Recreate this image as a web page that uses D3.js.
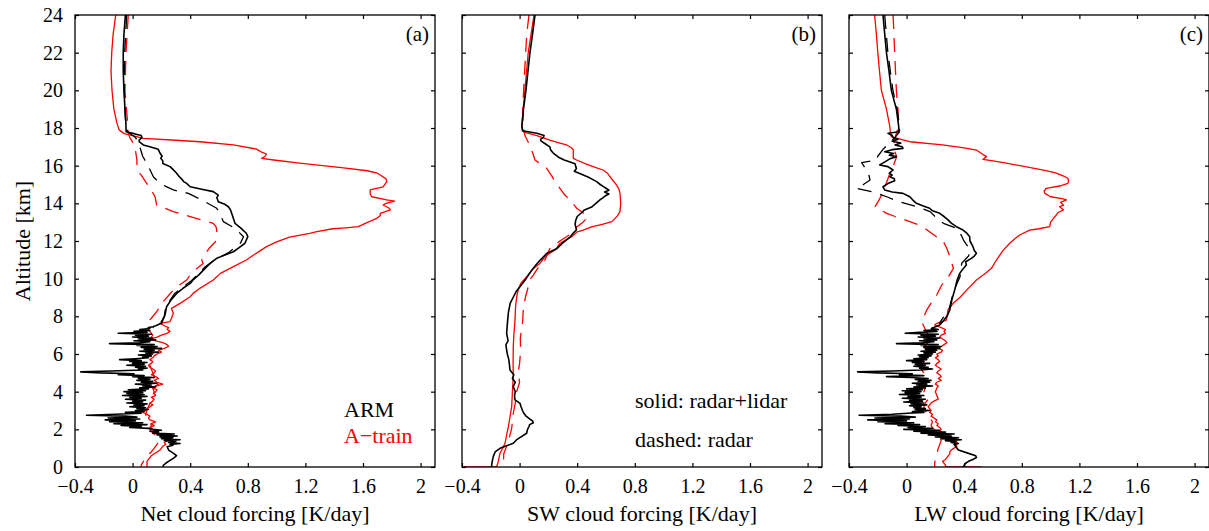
<!DOCTYPE html>
<html>
<head>
<meta charset="utf-8">
<script src="https://cdn.jsdelivr.net/npm/d3@7"></script>
<style>
  html, body { margin: 0; padding: 0; background: #fff; }
  svg { display: block; }
  text { font-family: "Liberation Serif", "Times New Roman", serif; fill: #000; }
</style>
</head>
<body>
<svg id="chart" width="1209" height="531"></svg>
<script>
// Axis ticks and labels
const xTicks = [-0.4, 0, 0.4, 0.8, 1.2, 1.6, 2];
const yTicks = [0, 2, 4, 6, 8, 10, 12, 14, 16, 18, 20, 22, 24];
const panelTags = ["(a)", "(b)", "(c)"];
const xTitles = ["Net cloud forcing [K/day]", "SW cloud forcing [K/day]", "LW cloud forcing [K/day]"];
const yTitle = "Altitude [km]";
const sourceNames = ["ARM", "A\u2212train"];
const styleNotes = ["solid: radar+lidar", "dashed: radar"];

// Profiles as [altitude km, forcing K/day]
// ---- Net cloud forcing ----
const netArmSolid = [
  [24,-0.05],[23,-0.06],[22,-0.065],[21,-0.065],[20,-0.06],[19,-0.053],[18.3,-0.047],[17.8,-0.045],
  [17.7,0.01],[17.6,0.06],[17.5,0.065],[17.35,0.045],[17.27,0.046],[17.1,0.074],[17.0,0.12],[16.87,0.178],
  [16.67,0.19],[16.5,0.205],[16.4,0.195],[16.25,0.21],[16.12,0.21],[15.95,0.26],[15.8,0.28],[15.6,0.306],
  [15.45,0.32],[15.3,0.34],[15.15,0.355],[15.06,0.375],[14.88,0.40],[14.75,0.48],[14.62,0.56],[14.44,0.595],
  [14.3,0.585],[14.2,0.59],[14.09,0.595],[13.95,0.64],[13.82,0.665],[13.65,0.68],[13.47,0.688],[13.2,0.70],
  [12.94,0.711],[12.7,0.75],[12.55,0.77],[12.41,0.79],[12.23,0.80],[12.05,0.79],[11.88,0.78],[11.65,0.74],
  [11.43,0.70],[11.25,0.64],[11.08,0.584],[10.85,0.545],[10.64,0.515],[10.2,0.46],[9.93,0.42],[9.75,0.40],
  [9.49,0.35],[9.22,0.306],[8.9,0.27],[8.51,0.236],[8.07,0.225],[7.8,0.21],[7.63,0.20],[7.5,0.16],
  [7.45,0.14],[7.40,0.11],[7.35,0.12],[7.30,0.05],[7.25,0.12],[7.20,0.01],[7.15,0.10],[7.10,-0.10],
  [7.05,0.13],[7.00,0.02],[6.95,0.11],[6.90,0.00],[6.85,0.14],[6.80,0.04],[6.75,0.16],[6.70,0.01],
  [6.65,0.12],[6.60,0.05],[6.55,-0.16],[6.50,0.15],[6.45,0.03],[6.40,0.17],[6.35,0.06],[6.30,0.20],
  [6.25,0.08],[6.20,0.15],[6.15,0.05],[6.10,0.18],[6.05,0.09],[6.00,0.14],[5.95,0.04],[5.90,0.13],
  [5.85,0.07],[5.80,0.11],[5.75,0.02],[5.70,-0.09],[5.65,0.06],[5.60,-0.02],[5.55,0.10],[5.50,0.00],
  [5.45,0.08],[5.40,-0.04],[5.35,0.09],[5.30,0.02],[5.25,0.10],[5.20,0.04],[5.15,0.07],[5.10,-0.15],
  [5.05,-0.36],[5.00,-0.22],[4.95,0.01],[4.90,-0.10],[4.85,0.08],[4.80,0.00],[4.75,0.15],[4.70,0.04],
  [4.65,0.12],[4.60,0.03],[4.55,0.14],[4.50,0.06],[4.45,0.17],[4.40,0.02],[4.35,0.13],[4.30,0.07],
  [4.25,0.16],[4.20,0.05],[4.15,0.11],[4.10,-0.03],[4.05,0.09],[4.00,-0.06],[3.95,0.07],[3.90,-0.04],
  [3.85,0.08],[3.80,-0.07],[3.75,0.10],[3.70,-0.02],[3.65,0.06],[3.60,-0.05],[3.55,0.09],[3.50,0.00],
  [3.45,0.07],[3.40,-0.04],[3.35,0.10],[3.30,0.01],[3.25,0.08],[3.20,-0.02],[3.15,0.09],[3.10,0.03],
  [3.05,0.11],[3.00,0.02],[2.95,0.08],[2.90,-0.05],[2.85,0.06],[2.80,-0.12],[2.75,-0.32],[2.70,-0.05],
  [2.65,0.03],[2.60,-0.17],[2.55,0.05],[2.50,-0.19],[2.45,0.02],[2.40,-0.16],[2.35,0.07],[2.30,-0.13],
  [2.25,0.10],[2.20,-0.08],[2.15,0.06],[2.10,-0.02],[2.05,0.11],[2.00,0.14],[1.95,0.20],[1.90,0.12],
  [1.85,0.18],[1.80,0.14],[1.75,0.29],[1.70,0.17],[1.65,0.31],[1.60,0.19],[1.55,0.28],[1.50,0.20],
  [1.45,0.33],[1.40,0.22],[1.35,0.30],[1.30,0.25],[1.25,0.33],[1.20,0.26],[1.15,0.28],[1.08,0.24],
  [0.9,0.25],[0.75,0.28],[0.6,0.305],[0.5,0.29],[0.35,0.26],[0.2,0.23],[0.1,0.215],[0,0.21]
];
const netArmDashed = [
  [24,-0.041],[22,-0.055],[20,-0.058],[18.5,-0.05],[18,-0.04],[17.8,-0.035],[17.5,0.02],[17.2,0.04],
  [17.0,0.05],[16.5,0.07],[16.1,0.10],[15.8,0.12],[15.4,0.145],[15.06,0.19],[14.9,0.23],[14.71,0.283],
  [14.53,0.387],[14.18,0.48],[13.74,0.584],[13.4,0.61],[13.03,0.63],[12.67,0.711],[12.23,0.77],[11.9,0.75],
  [11.4,0.67],[11.0,0.57],[10.6,0.50],[9.9,0.41],[9.5,0.34],[9.2,0.29],[8.5,0.23],[8.0,0.22],[7.6,0.19],[7.4,0.14]
];
const netAtrainSolid = [
  [24,-0.117],[23,-0.135],[22,-0.145],[21,-0.15],[20,-0.143],[19,-0.13],[18.3,-0.11],[17.9,-0.094],
  [17.7,-0.058],[17.6,0.0],[17.45,0.074],[17.35,0.30],[17.27,0.468],[17.1,0.70],[16.88,0.86],[16.7,0.90],
  [16.62,0.93],[16.5,0.92],[16.39,0.897],[16.3,0.98],[16.13,1.16],[15.9,1.45],[15.73,1.63],[15.6,1.70],
  [15.45,1.73],[15.3,1.76],[15.15,1.765],[14.88,1.74],[14.71,1.65],[14.5,1.65],[14.35,1.66],[14.18,1.765],
  [14.12,1.82],[14.0,1.76],[13.91,1.74],[13.75,1.78],[13.65,1.79],[13.55,1.75],[13.47,1.72],[13.35,1.72],
  [13.2,1.695],[12.95,1.62],[12.76,1.567],[12.7,1.48],[12.65,1.39],[12.5,1.28],[12.41,1.23],[12.2,1.09],
  [11.95,1.00],[11.7,0.93],[11.5,0.89],[11.26,0.84],[10.99,0.79],[10.64,0.70],[10.28,0.61],[9.93,0.56],
  [9.5,0.47],[9.22,0.42],[9.04,0.40],[8.69,0.33],[8.42,0.27],[8.16,0.283],[7.9,0.27],[7.72,0.26],[7.63,0.19],
  [7.5,0.22],[7.4,0.25],[7.3,0.24],[7.2,0.26],[7.1,0.24],[7.0,0.20],[6.9,0.17],[6.8,0.13],[6.7,0.16],
  [6.6,0.21],[6.5,0.24],[6.4,0.25],[6.3,0.22],[6.2,0.18],[6.1,0.20],[6.0,0.17],[5.9,0.15],[5.8,0.14],
  [5.7,0.12],[5.6,0.14],[5.5,0.13],[5.4,0.11],[5.3,0.12],[5.2,0.14],[5.1,0.16],[5.0,0.15],[4.9,0.13],
  [4.8,0.16],[4.7,0.18],[4.6,0.15],[4.5,0.17],[4.4,0.21],[4.3,0.16],[4.2,0.14],[4.1,0.17],[4.0,0.16],
  [3.9,0.15],[3.8,0.16],[3.7,0.13],[3.6,0.15],[3.5,0.14],[3.4,0.12],[3.3,0.14],[3.2,0.12],[3.1,0.10],
  [3.0,0.09],[2.9,0.07],[2.8,0.10],[2.7,0.12],[2.6,0.11],[2.5,0.12],[2.4,0.16],[2.3,0.13],[2.2,0.15],
  [2.1,0.12],[2.0,0.14],[1.9,0.17],[1.8,0.15],[1.7,0.19],[1.6,0.21],[1.5,0.23],[1.4,0.24],[1.3,0.22],
  [1.2,0.23],[1.1,0.21],[1.0,0.20],[0.9,0.19],[0.8,0.17],[0.7,0.15],[0.6,0.13],[0.5,0.12],[0.4,0.11],
  [0.3,0.10],[0.2,0.10],[0.1,0.10],[0,0.10]
];
const netAtrainDashed = [
  [24,-0.03],[22,-0.046],[20,-0.053],[18.5,-0.037],[17.8,-0.032],[17.5,-0.02],[17.2,0.005],[16.8,0.02],
  [16.3,0.03],[15.77,0.03],[15.5,0.06],[15.06,0.098],[14.7,0.13],[14.35,0.156],[13.91,0.167],[13.75,0.22],
  [13.56,0.283],[13.3,0.40],[12.94,0.56],[12.75,0.58],[12.58,0.584],[12.3,0.585],[11.96,0.575],[11.6,0.53],
  [11.26,0.50],[10.99,0.48],[10.8,0.49],[10.5,0.44],[10.2,0.40],[9.93,0.376],[9.57,0.306],[9.2,0.26],
  [8.78,0.213],[8.5,0.19],[8.25,0.167],[7.9,0.13],[7.63,0.098],[7.4,0.10],[7.2,0.12],[7.0,0.14],[6.8,0.12],
  [6.6,0.15],[6.4,0.13],[6.2,0.14],[6.0,0.12],[5.8,0.13],[5.6,0.11],[5.4,0.12],[5.2,0.13],[5.0,0.14],
  [4.8,0.15],[4.6,0.14],[4.4,0.18],[4.2,0.14],[4.0,0.15],[3.8,0.14],[3.6,0.13],[3.4,0.12],[3.2,0.11],
  [3.0,0.10],[2.8,0.09],[2.6,0.10],[2.4,0.12],[2.2,0.13],[2.0,0.12],[1.8,0.14],[1.6,0.17],[1.4,0.18],
  [1.2,0.17],[1.0,0.15],[0.8,0.13],[0.6,0.10],[0.3,0.075],[0.1,0.06],[0,0.06]
];

// ---- SW cloud forcing ----
const swArmSolid = [
  [24,0.107],[23,0.09],[22,0.072],[21,0.058],[20,0.044],[19,0.027],[18.1,0.016],[17.85,0.02],[17.72,0.12],
  [17.6,0.17],[17.5,0.165],[17.4,0.145],[17.3,0.15],[17.15,0.18],[17.0,0.21],[16.85,0.215],[16.7,0.23],
  [16.6,0.245],[16.45,0.27],[16.3,0.31],[16.2,0.35],[16.1,0.385],[15.95,0.39],[15.85,0.395],[15.7,0.38],
  [15.55,0.43],[15.4,0.475],[15.3,0.50],[15.15,0.535],[15.0,0.56],[14.9,0.58],[14.8,0.60],[14.7,0.62],
  [14.6,0.59],[14.5,0.62],[14.42,0.60],[14.3,0.58],[14.2,0.56],[14.0,0.53],[13.8,0.50],[13.65,0.45],
  [13.5,0.43],[13.3,0.40],[13.1,0.39],[12.9,0.385],[12.6,0.395],[12.4,0.37],[12.2,0.35],[11.9,0.30],
  [11.6,0.26],[11.35,0.19],[11.0,0.145],[10.7,0.11],[10.4,0.08],[10.0,0.045],[9.6,0.005],[9.3,-0.025],
  [9.0,-0.045],[8.7,-0.065],[8.2,-0.078],[7.6,-0.085],[7.1,-0.09],[6.7,-0.08],[6.5,-0.095],[6.2,-0.09],
  [6.0,-0.085],[5.7,-0.075],[5.4,-0.07],[5.15,-0.067],[4.9,-0.04],[4.7,-0.05],[4.5,-0.03],[4.26,-0.044],
  [4.0,-0.03],[3.8,-0.035],[3.56,-0.032],[3.38,0.003],[3.2,0.01],[3.0,0.02],[2.85,0.03],[2.7,0.045],
  [2.55,0.07],[2.45,0.09],[2.35,0.095],[2.25,0.07],[2.15,0.065],[2.0,0.055],[1.79,0.049],[1.6,0.01],
  [1.45,-0.02],[1.26,-0.044],[1.1,-0.10],[0.99,-0.136],[0.8,-0.17],[0.55,-0.183],[0.3,-0.19],[0.1,-0.194],[0,-0.194]
];
const swAtrainSolid = [
  [24,0.10],[23,0.08],[22,0.06],[21,0.048],[20,0.037],[19,0.025],[18.1,0.015],[17.8,0.026],[17.6,0.12],
  [17.36,0.21],[17.2,0.28],[17.1,0.327],[16.95,0.36],[16.84,0.373],[16.6,0.373],[16.39,0.373],[16.3,0.396],
  [16.1,0.46],[15.9,0.53],[15.77,0.58],[15.6,0.61],[15.41,0.628],[15.2,0.65],[14.97,0.674],[14.75,0.69],
  [14.53,0.697],[14.25,0.70],[14.0,0.702],[13.8,0.70],[13.56,0.697],[13.35,0.68],[13.2,0.663],[13.03,0.64],
  [12.9,0.58],[12.75,0.50],[12.58,0.442],[12.49,0.40],[12.23,0.362],[11.88,0.28],[11.52,0.246],[11.2,0.18],
  [10.82,0.142],[10.5,0.09],[10.1,0.049],[9.75,0.008],[9.4,-0.01],[9.04,-0.02],[8.5,-0.028],[7.8,-0.032],
  [7.0,-0.04],[6.39,-0.044],[5.5,-0.045],[4.8,-0.044],[4.0,-0.05],[3.2,-0.055],[2.6,-0.068],[2.14,-0.078],
  [1.7,-0.09],[1.26,-0.101],[1.0,-0.118],[0.73,-0.136],[0.5,-0.143],[0.28,-0.148],[0.1,-0.155],[0.02,-0.16],[0,-0.39]
];
const swAtrainDashed = [
  [24,0.065],[23,0.05],[22,0.042],[21,0.035],[20,0.028],[19,0.022],[18,0.025],[17.6,0.037],[17.1,0.07],
  [16.7,0.09],[16.3,0.107],[15.86,0.188],[15.5,0.22],[15.15,0.246],[14.8,0.28],[14.44,0.315],[14.1,0.36],
  [13.74,0.396],[13.29,0.477],[13.0,0.44],[12.7,0.39],[12.4,0.362],[12.0,0.28],[11.6,0.21],[10.99,0.176],
  [10.6,0.13],[10.19,0.095],[9.93,0.07],[9.57,0.06],[9.0,0.04],[8.43,0.026],[7.72,0.021],[6.83,0.005],
  [6.2,0.007],[5.5,0.0],[5.0,-0.01],[4.5,0.0],[4.0,-0.02],[3.4,-0.03],[2.85,-0.044],[2.05,-0.055],
  [1.3,-0.08],[0.7,-0.11],[0,-0.113]
];

// ---- LW cloud forcing ----
const lwArmSolid = [
  [24,-0.164],[23,-0.152],[22,-0.14],[21,-0.122],[20,-0.106],[19,-0.071],[18.1,-0.055],[17.8,-0.053],
  [17.72,-0.129],[17.6,-0.10],[17.5,-0.095],[17.4,-0.06],[17.3,-0.10],[17.2,-0.04],[17.1,-0.08],[17.0,-0.03],
  [16.92,-0.025],[16.85,-0.10],[16.74,-0.152],[16.65,-0.09],[16.55,-0.12],[16.48,-0.071],[16.35,-0.12],
  [16.2,-0.15],[16.04,-0.187],[15.95,-0.13],[15.85,-0.11],[15.77,-0.094],[15.6,-0.12],[15.5,-0.10],
  [15.41,-0.117],[15.3,-0.085],[15.2,-0.083],[15.05,-0.13],[14.88,-0.164],[14.71,-0.152],[14.6,-0.10],
  [14.53,-0.025],[14.35,0.022],[14.2,0.04],[14.0,0.068],[13.85,0.12],[13.74,0.16],[13.6,0.18],[13.47,0.23],
  [13.3,0.26],[13.12,0.288],[12.95,0.31],[12.76,0.346],[12.58,0.392],[12.4,0.42],[12.23,0.438],[12.0,0.44],
  [11.7,0.461],[11.5,0.47],[11.35,0.485],[11.2,0.47],[11.08,0.45],[10.9,0.41],[10.73,0.415],[10.5,0.39],
  [10.28,0.369],[9.9,0.35],[9.4,0.334],[8.9,0.315],[8.34,0.30],[8.0,0.28],[7.8,0.26],[7.54,0.23],[7.36,0.172],
  [7.30,0.22],[7.25,0.12],[7.20,0.21],[7.15,0.09],[7.10,-0.01],[7.05,0.22],[7.00,0.10],[6.95,0.20],
  [6.90,0.08],[6.85,0.23],[6.80,0.12],[6.75,0.21],[6.70,0.09],[6.65,0.19],[6.60,0.11],[6.55,-0.07],
  [6.50,0.22],[6.45,0.10],[6.40,0.24],[6.35,0.12],[6.30,0.23],[6.25,0.13],[6.20,0.21],[6.15,0.10],
  [6.10,0.20],[6.05,0.12],[6.00,0.18],[5.95,0.08],[5.90,0.17],[5.85,0.09],[5.80,0.15],[5.75,0.05],
  [5.70,0.14],[5.65,0.00],[5.60,0.12],[5.55,0.04],[5.50,0.16],[5.45,0.06],[5.40,0.13],[5.35,0.05],
  [5.30,0.15],[5.25,0.09],[5.20,0.18],[5.15,0.10],[5.10,-0.10],[5.05,-0.34],[5.00,-0.20],[4.95,0.04],
  [4.90,-0.05],[4.85,0.12],[4.80,-0.14],[4.75,0.03],[4.70,0.15],[4.65,0.06],[4.60,0.17],[4.55,0.08],
  [4.50,0.16],[4.45,0.04],[4.40,0.14],[4.35,0.07],[4.30,0.18],[4.25,0.05],[4.20,0.13],[4.15,0.00],
  [4.10,0.11],[4.05,-0.03],[4.00,0.10],[3.95,-0.01],[3.90,0.09],[3.85,-0.05],[3.80,0.12],[3.75,0.01],
  [3.70,0.10],[3.65,-0.03],[3.60,0.13],[3.55,0.02],[3.50,0.11],[3.45,-0.02],[3.40,0.12],[3.35,0.03],
  [3.30,0.14],[3.25,0.02],[3.20,0.10],[3.15,0.05],[3.10,0.13],[3.05,0.06],[3.00,0.16],[2.95,0.04],
  [2.90,0.12],[2.85,0.01],[2.80,-0.10],[2.75,-0.33],[2.70,-0.04],[2.65,0.06],[2.60,-0.22],[2.55,0.02],
  [2.50,-0.27],[2.45,0.00],[2.40,-0.20],[2.35,0.05],[2.30,-0.15],[2.25,0.09],[2.20,-0.06],[2.15,0.13],
  [2.10,0.01],[2.05,0.18],[2.00,-0.02],[1.95,0.23],[1.90,0.05],[1.85,0.27],[1.80,0.10],[1.75,0.33],
  [1.70,0.15],[1.65,0.31],[1.60,0.20],[1.55,0.36],[1.50,0.24],[1.45,0.38],[1.40,0.27],[1.35,0.34],
  [1.30,0.31],[1.25,0.36],[1.20,0.33],[1.10,0.34],[1.0,0.35],[0.9,0.36],[0.75,0.42],[0.6,0.48],[0.5,0.485],
  [0.4,0.46],[0.3,0.43],[0.2,0.41],[0.1,0.40],[0,0.394]
];
const lwArmDashed = [
  [24,-0.152],[22,-0.13],[20,-0.095],[19,-0.066],[18.1,-0.048],[17.8,-0.05],[17.5,-0.08],[17.2,-0.12],
  [16.9,-0.16],[16.5,-0.20],[16.3,-0.208],[16.16,-0.312],[15.9,-0.29],[15.6,-0.265],[15.24,-0.254],
  [15.0,-0.30],[14.8,-0.35],[14.62,-0.24],[14.35,-0.138],[14.09,-0.057],[13.82,0.07],[13.56,0.163],
  [13.2,0.21],[12.94,0.256],[12.67,0.348],[12.3,0.38],[12.05,0.395],[11.52,0.441],[11.2,0.43],[10.82,0.383],
  [10.1,0.371],[9.4,0.33],[8.4,0.295],[7.6,0.225]
];
const lwAtrainSolid = [
  [24,-0.222],[23,-0.21],[22,-0.20],[21,-0.188],[20,-0.175],[19,-0.14],[18.1,-0.117],[17.8,-0.113],
  [17.54,-0.106],[17.4,-0.04],[17.27,0.022],[17.1,0.25],[16.95,0.40],[16.83,0.485],[16.65,0.52],[16.48,0.554],
  [16.33,0.53],[16.25,0.60],[16.13,0.693],[15.9,0.86],[15.75,0.96],[15.6,1.04],[15.45,1.09],[15.33,1.12],
  [15.2,1.125],[15.06,1.12],[14.92,1.063],[14.8,0.97],[14.65,0.955],[14.53,0.96],[14.35,1.0],[14.25,1.08],
  [14.18,1.11],[14.05,1.07],[13.9,1.09],[13.82,1.063],[13.65,1.09],[13.5,1.05],[13.38,1.04],[13.2,1.02],
  [13.0,1.0],[12.76,0.994],[12.65,0.92],[12.58,0.855],[12.32,0.785],[12.1,0.75],[11.88,0.716],[11.5,0.67],
  [10.99,0.624],[10.55,0.589],[10.3,0.55],[9.93,0.485],[9.5,0.43],[9.0,0.37],[8.69,0.323],[8.34,0.288],
  [8.0,0.28],[7.8,0.277],[7.63,0.21],[7.54,0.195],[7.4,0.24],[7.3,0.27],[7.2,0.26],[7.1,0.27],[7.0,0.24],
  [6.9,0.23],[6.8,0.25],[6.7,0.27],[6.6,0.28],[6.5,0.26],[6.4,0.24],[6.3,0.22],[6.2,0.25],[6.1,0.24],
  [6.0,0.21],[5.9,0.22],[5.8,0.20],[5.7,0.22],[5.6,0.23],[5.5,0.21],[5.4,0.20],[5.3,0.22],[5.2,0.24],
  [5.1,0.22],[5.0,0.21],[4.9,0.23],[4.8,0.24],[4.7,0.22],[4.6,0.24],[4.5,0.21],[4.4,0.20],[4.3,0.22],
  [4.2,0.21],[4.0,0.20],[3.8,0.21],[3.6,0.22],[3.5,0.19],[3.4,0.17],[3.3,0.16],[3.2,0.15],[3.1,0.16],
  [3.0,0.17],[2.9,0.16],[2.8,0.18],[2.7,0.17],[2.6,0.19],[2.5,0.21],[2.4,0.20],[2.3,0.22],[2.2,0.21],
  [2.1,0.23],[2.0,0.24],[1.9,0.23],[1.8,0.26],[1.7,0.28],[1.6,0.31],[1.5,0.32],[1.4,0.34],[1.3,0.35],
  [1.2,0.34],[1.1,0.35],[1.0,0.33],[0.9,0.31],[0.8,0.30],[0.7,0.30],[0.6,0.29],[0.5,0.28],[0.4,0.27],
  [0.3,0.25],[0.2,0.26],[0.1,0.27],[0.02,0.27],[0,0.52]
];
const lwAtrainDashed = [
  [24,-0.094],[23,-0.088],[22,-0.083],[21,-0.077],[20,-0.071],[19,-0.06],[18.1,-0.055],[17.72,-0.071],
  [17.3,-0.085],[17.0,-0.094],[16.48,-0.069],[16.04,-0.09],[15.5,-0.12],[14.88,-0.15],[14.62,-0.161],
  [14.2,-0.19],[13.82,-0.219],[13.65,-0.18],[13.47,-0.138],[13.3,-0.08],[13.15,-0.022],[12.9,0.07],
  [12.65,0.13],[12.41,0.174],[11.96,0.256],[11.6,0.28],[11.17,0.30],[10.55,0.325],[10.1,0.29],[9.66,0.244],
  [9.13,0.209],[8.7,0.17],[8.34,0.14],[7.72,0.105],[7.3,0.13],[7.0,0.15],[6.8,0.13],[6.6,0.15],[6.4,0.12],
  [6.2,0.14],[6.0,0.12],[5.8,0.10],[5.6,0.12],[5.4,0.11],[5.2,0.10],[5.0,0.12],[4.8,0.13],[4.6,0.12],
  [4.4,0.10],[4.2,0.13],[4.0,0.12],[3.8,0.14],[3.6,0.15],[3.4,0.13],[3.2,0.12],[3.0,0.13],[2.8,0.14],
  [2.6,0.16],[2.4,0.18],[2.2,0.17],[2.0,0.19],[1.8,0.22],[1.6,0.23],[1.4,0.24],[1.2,0.23],[1.0,0.22],
  [0.7,0.21],[0.4,0.20],[0.2,0.195],[0,0.195]
];

const panels = [
  { tag: panelTags[0], title: xTitles[0], left: 75, series: [
      { data: netAtrainDashed, color: "#ff0000", dashed: true },
      { data: netAtrainSolid, color: "#ff0000", dashed: false },
      { data: netArmDashed, color: "#000000", dashed: true },
      { data: netArmSolid, color: "#000000", dashed: false } ] },
  { tag: panelTags[1], title: xTitles[1], left: 462, series: [
      { data: swAtrainDashed, color: "#ff0000", dashed: true },
      { data: swAtrainSolid, color: "#ff0000", dashed: false },
      { data: swArmSolid, color: "#000000", dashed: false } ] },
  { tag: panelTags[2], title: xTitles[2], left: 849, series: [
      { data: lwAtrainDashed, color: "#ff0000", dashed: true },
      { data: lwAtrainSolid, color: "#ff0000", dashed: false },
      { data: lwArmDashed, color: "#000000", dashed: true },
      { data: lwArmSolid, color: "#000000", dashed: false } ] }
];

const W = 360, TOP = 15, BOTTOM = 467;
const svg = d3.select("#chart");
const y = d3.scaleLinear().domain([0, 24]).range([BOTTOM, TOP]);
const fmt = v => v === 0 ? "0" : (v < 0 ? "\u2212" : "") + Math.abs(v);

panels.forEach((p, i) => {
  const x = d3.scaleLinear().domain([-0.4, 2.1]).range([p.left, p.left + W]);
  const g = svg.append("g");

  const clipId = "clip" + i;
  svg.append("clipPath").attr("id", clipId).append("rect")
    .attr("x", p.left).attr("y", TOP).attr("width", W).attr("height", BOTTOM - TOP);

  const line = d3.line().x(d => x(d[1])).y(d => y(d[0]));
  const lines = g.append("g").attr("clip-path", `url(#${clipId})`);
  p.series.forEach(s => {
    lines.append("path").datum(s.data)
      .attr("d", line)
      .attr("fill", "none")
      .attr("stroke", s.color)
      .attr("stroke-width", s.color === "#000000" && !s.dashed ? 1.6 : 1.3)
      .attr("stroke-linejoin", "round")
      .attr("stroke-dasharray", s.dashed ? "14,9" : null);
  });

  // Axes with inward ticks on all four sides
  const bottomAxis = d3.axisBottom(x).tickValues(xTicks).tickFormat(fmt).tickSizeInner(-4).tickSizeOuter(0).tickPadding(12);
  const topAxis = d3.axisTop(x).tickValues(xTicks).tickFormat("").tickSizeInner(-4).tickSizeOuter(0);
  const leftAxis = d3.axisLeft(y).tickValues(yTicks).tickFormat(i === 0 ? d3.format("d") : "").tickSizeInner(-4).tickSizeOuter(0).tickPadding(12);
  const rightAxis = d3.axisRight(y).tickValues(yTicks).tickFormat("").tickSizeInner(-4).tickSizeOuter(0);

  const axes = [
    g.append("g").attr("transform", `translate(0,${BOTTOM})`).call(bottomAxis),
    g.append("g").attr("transform", `translate(0,${TOP})`).call(topAxis),
    g.append("g").attr("transform", `translate(${p.left},0)`).call(leftAxis),
    g.append("g").attr("transform", `translate(${p.left + W},0)`).call(rightAxis)
  ];
  axes.forEach(a => {
    a.attr("font-family", null).attr("font-size", null);
    a.selectAll("path.domain").remove();
    a.selectAll("line").attr("stroke", "#000").attr("stroke-width", 1.2);
    a.selectAll("text").style("font-family", "'Liberation Serif','Times New Roman',serif").style("font-size", "20px").attr("fill", "#000");
  });

  g.append("rect")
    .attr("x", p.left).attr("y", TOP).attr("width", W).attr("height", BOTTOM - TOP)
    .attr("fill", "none").attr("stroke", "#000").attr("stroke-width", 1.3);

  g.append("text").attr("x", p.left + W - 6).attr("y", 41)
    .attr("text-anchor", "end").style("font-size", "21px").text(p.tag);

  g.append("text").attr("x", p.left + W / 2).attr("y", 521)
    .attr("text-anchor", "middle").style("font-size", "22px").text(p.title);
});

svg.append("text")
  .attr("transform", `translate(30,${(TOP + BOTTOM) / 2}) rotate(-90)`)
  .attr("text-anchor", "middle").style("font-size", "22px").text(yTitle);

// Source legend in the net panel
const srcColors = ["#000000", "#ff0000"];
sourceNames.forEach((n, k) => {
  svg.append("text").attr("x", 344).attr("y", 417 + k * 26)
    .style("font-size", "22px").style("fill", srcColors[k]).text(n);
});
// Line style notes in the SW panel
styleNotes.forEach((n, k) => {
  svg.append("text").attr("x", 635).attr("y", 408 + k * 39)
    .style("font-size", "22px").text(n);
});
</script>
</body>
</html>
